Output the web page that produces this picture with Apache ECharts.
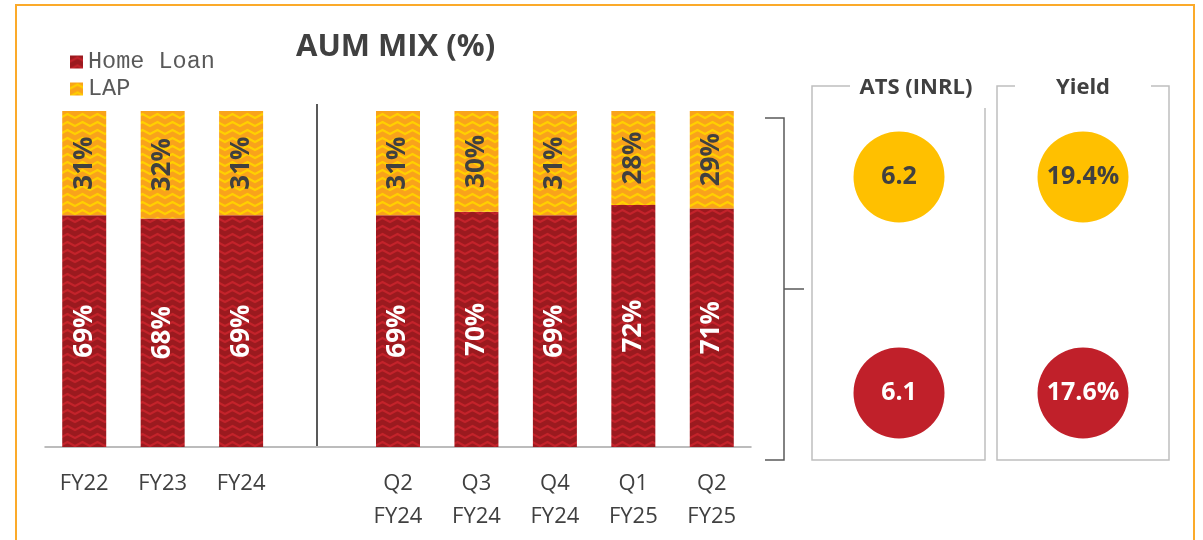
<!DOCTYPE html>
<html>
<head>
<meta charset="utf-8">
<script src="https://cdn.jsdelivr.net/npm/echarts@6/dist/echarts.min.js"></script>
<style>
  html, body { margin: 0; padding: 0; background: #fff; }
  #chart { width: 1203px; height: 540px; }
</style>
</head>
<body>
<div id="chart"></div>
<script>
// Portfolio mix by period (empty slot separates annual from quarterly figures)
const categories = ['FY22', 'FY23', 'FY24', '', 'Q2\nFY24', 'Q3\nFY24', 'Q4\nFY24', 'Q1\nFY25', 'Q2\nFY25'];
const homeLoan = [69, 68, 69, null, 69, 70, 69, 72, 71];
const lap = [31, 32, 31, null, 31, 30, 31, 28, 29];

// Ticket size and yield by product
const metrics = ['ATS (INRL)', 'Yield'];
const products = ['Home Loan', 'LAP'];
const homeLoanMetrics = [6.1, 17.6];
const lapMetrics = [6.2, 19.4];

// Zigzag fill used for the stacked bars
function zigzag(base, stroke) {
  const c = document.createElement('canvas');
  c.width = 15; c.height = 8;
  const g = c.getContext('2d');
  g.fillStyle = base;
  g.fillRect(0, 0, 15, 8);
  g.strokeStyle = stroke;
  g.lineWidth = 2;
  g.beginPath();
  g.moveTo(-3.75, 4); g.lineTo(0, 6); g.lineTo(3.75, 4); g.lineTo(7.5, 2);
  g.lineTo(11.25, 4); g.lineTo(15, 6); g.lineTo(18.75, 4);
  g.stroke();
  return { image: c, repeat: 'repeat' };
}

const redFill = zigzag('#9B1A1F', '#C3232B');
const yellowFill = zigzag('#F9A31B', '#FFD000');

const chart = echarts.init(document.getElementById('chart'), null, { renderer: 'canvas' });

const FONT = '"Open Sans", "Noto Sans", sans-serif';

chart.setOption({
  animation: false,
  title: {
    text: 'AUM MIX (%)',
    left: 291, top: 27,
    textStyle: { fontFamily: FONT, fontSize: 31, fontWeight: 'bold', color: '#404040' }
  },
  legend: {
    data: ['Home Loan', 'LAP'],
    orient: 'vertical',
    left: 65, top: 45,
    itemWidth: 13, itemHeight: 13, itemGap: 3,
    icon: 'rect',
    textStyle: { fontFamily: '"Liberation Mono", "DejaVu Sans Mono", monospace', fontSize: 23.5, color: '#595959' }
  },
  grid: [
    { left: 45, right: 452, top: 111, bottom: 93 },
    { left: 807, width: 368, top: 69, height: 432 }
  ],
  xAxis: [
    {
      gridIndex: 0, type: 'category', data: categories,
      axisLine: { lineStyle: { color: '#A6A6A6', width: 1.5 } },
      axisTick: { show: false },
      axisLabel: { fontFamily: FONT, fontSize: 22, color: '#404040', margin: 20, lineHeight: 33, interval: 0 }
    },
    { gridIndex: 1, type: 'category', data: metrics, show: false }
  ],
  yAxis: [
    { gridIndex: 0, type: 'value', min: 0, max: 100, show: false },
    { gridIndex: 1, type: 'category', data: products, show: false }
  ],
  series: [
    {
      name: 'Home Loan', type: 'bar', stack: 'mix', data: homeLoan, barWidth: 44,
      xAxisIndex: 0, yAxisIndex: 0,
      itemStyle: { color: redFill },
      label: {
        show: true, position: 'inside', rotate: 90, formatter: '{c}%',
        fontFamily: FONT, fontSize: 26, fontWeight: 'bold', color: '#FFFFFF'
      }
    },
    {
      name: 'LAP', type: 'bar', stack: 'mix', data: lap, barWidth: 44,
      xAxisIndex: 0, yAxisIndex: 0,
      itemStyle: { color: yellowFill },
      label: {
        show: true, position: 'inside', rotate: 90, formatter: '{c}%',
        fontFamily: FONT, fontSize: 26, fontWeight: 'bold', color: '#404040'
      }
    },
    {
      name: 'Home Loan metrics', type: 'scatter', xAxisIndex: 1, yAxisIndex: 1,
      symbolSize: 91,
      data: homeLoanMetrics.map((v, i) => [i, 0, v]),
      itemStyle: { color: '#C0202A', opacity: 1 },
      label: {
        show: true, position: 'inside',
        formatter: p => p.value[0] === 1 ? p.value[2].toFixed(1) + '%' : p.value[2].toFixed(1),
        fontFamily: FONT, fontSize: 25, fontWeight: 'bold', color: '#FFFFFF'
      }
    },
    {
      name: 'LAP metrics', type: 'scatter', xAxisIndex: 1, yAxisIndex: 1,
      symbolSize: 91,
      data: lapMetrics.map((v, i) => [i, 1, v]),
      itemStyle: { color: '#FFC000', opacity: 1 },
      label: {
        show: true, position: 'inside',
        formatter: p => p.value[0] === 1 ? p.value[2].toFixed(1) + '%' : p.value[2].toFixed(1),
        fontFamily: FONT, fontSize: 25, fontWeight: 'bold', color: '#404040'
      }
    }
  ],
  graphic: [
    // outer frame
    { type: 'rect', shape: { x: 16, y: 5, width: 1178, height: 560 },
      style: { fill: 'none', stroke: '#FBAA2A', lineWidth: 2 }, silent: true },
    // divider between annual and quarterly bars
    { type: 'line', shape: { x1: 317, y1: 104, x2: 317, y2: 446 },
      style: { stroke: '#595959', lineWidth: 2 }, silent: true },
    // bracket pointing at the quarterly block
    { type: 'polyline', shape: { points: [[765, 118], [784, 118], [784, 460], [765, 460]] },
      style: { fill: 'none', stroke: '#595959', lineWidth: 1.5 }, silent: true },
    { type: 'line', shape: { x1: 784, y1: 289, x2: 804, y2: 289 },
      style: { stroke: '#595959', lineWidth: 1.5 }, silent: true },
    // metric panels
    { type: 'polyline', shape: { points: [[850, 86], [812, 86], [812, 460], [985, 460], [985, 108]] },
      style: { fill: 'none', stroke: '#BFBFBF', lineWidth: 1.5 }, silent: true },
    { type: 'polyline', shape: { points: [[1015, 86], [997, 86], [997, 460], [1169, 460], [1169, 86], [1151, 86]] },
      style: { fill: 'none', stroke: '#BFBFBF', lineWidth: 1.5 }, silent: true },
    { type: 'text', x: 916, y: 88,
      style: { text: metrics[0], fontFamily: FONT, fontSize: 22, fontWeight: 'bold', fill: '#404040',
               textAlign: 'center', textVerticalAlign: 'middle' }, silent: true },
    { type: 'text', x: 1083, y: 88,
      style: { text: metrics[1], fontFamily: FONT, fontSize: 22, fontWeight: 'bold', fill: '#404040',
               textAlign: 'center', textVerticalAlign: 'middle' }, silent: true }
  ]
});
</script>
</body>
</html>
